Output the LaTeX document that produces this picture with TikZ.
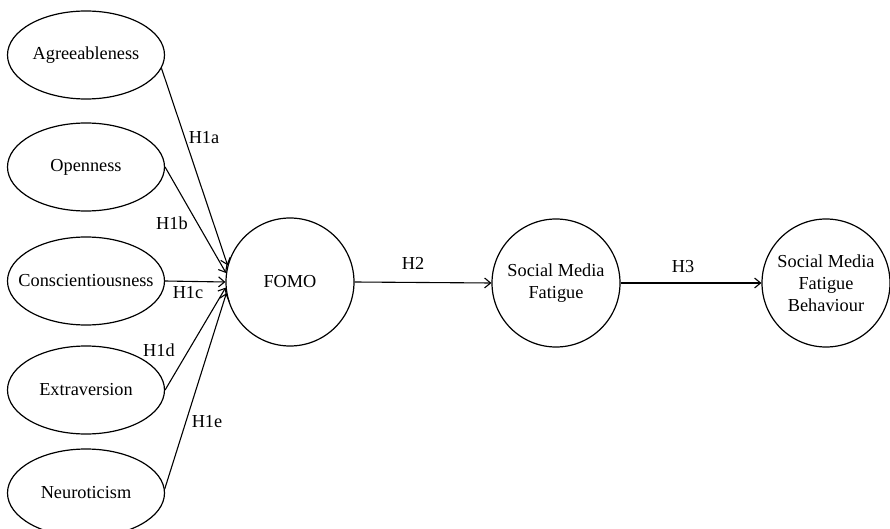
\documentclass[tikz,border=0pt]{standalone}
\usepackage{fontspec}
\setmainfont{Liberation Serif}
\usetikzlibrary{shapes.geometric,arrows.meta}
\newcommand\tlab[1]{\makebox[0pt]{#1}}
\begin{document}
\begin{tikzpicture}[x=1pt,y=1pt,
  trait/.style={draw,ellipse,line width=1.2pt,minimum width=157pt,minimum height=88pt,inner sep=0pt,font=\fontsize{18.3}{22}\selectfont},
  construct/.style={draw,circle,line width=1.2pt,minimum size=128pt,inner sep=0pt,align=center,font=\fontsize{18.3}{22}\selectfont},
  path/.style={line width=1.1pt,-{Straight Barb[length=6pt,width=10pt,line width=1.1pt]}},
  hlab/.style={font=\fontsize{18.3}{22}\selectfont,inner sep=0pt}]
\useasboundingbox (0,0) rectangle (890,-529);
\node[trait] (agr) at (86,-55) {\tlab{Agreeableness}};
\node[trait] (ope) at (86,-167) {\tlab{Openness}};
\node[trait] (con) at (86,-281) {\tlab{Conscientiousness}};
\node[trait] (ext) at (86,-390) {\tlab{Extraversion}};
\node[trait] (neu) at (86,-493) {\tlab{Neuroticism}};
\node[construct] (fomo) at (290,-282) {FOMO};
\node[construct] (smf) at (556,-283) {Social Media\\Fatigue};
\node[construct] (smfb) at (826,-283) {Social Media\\Fatigue\\Behaviour};
\draw[path] (agr.-10) -- (fomo.165);
\draw[path] (ope.east) -- (fomo.172);
\draw[path] (con.east) -- (fomo.west);
\draw[path] (ext.east) -- (fomo.185);
\draw[path] (neu.3) -- (fomo.190);
\draw[path] (fomo.east) -- (smf.west);
\draw[path] (smf.east) -- (smfb.west);
\node[hlab] (h1a) at (204,-138) {H1a};
\node[hlab] (h1b) at (172,-223) {H1b};
\node[hlab] (h1c) at (188,-293) {H1c};
\node[hlab] (h1d) at (159,-350) {H1d};
\node[hlab] (h1e) at (207,-422) {H1e};
\node[hlab] (h2) at (413,-263) {H2};
\node[hlab] (h3) at (683,-267) {H3};
\end{tikzpicture}
\end{document}
